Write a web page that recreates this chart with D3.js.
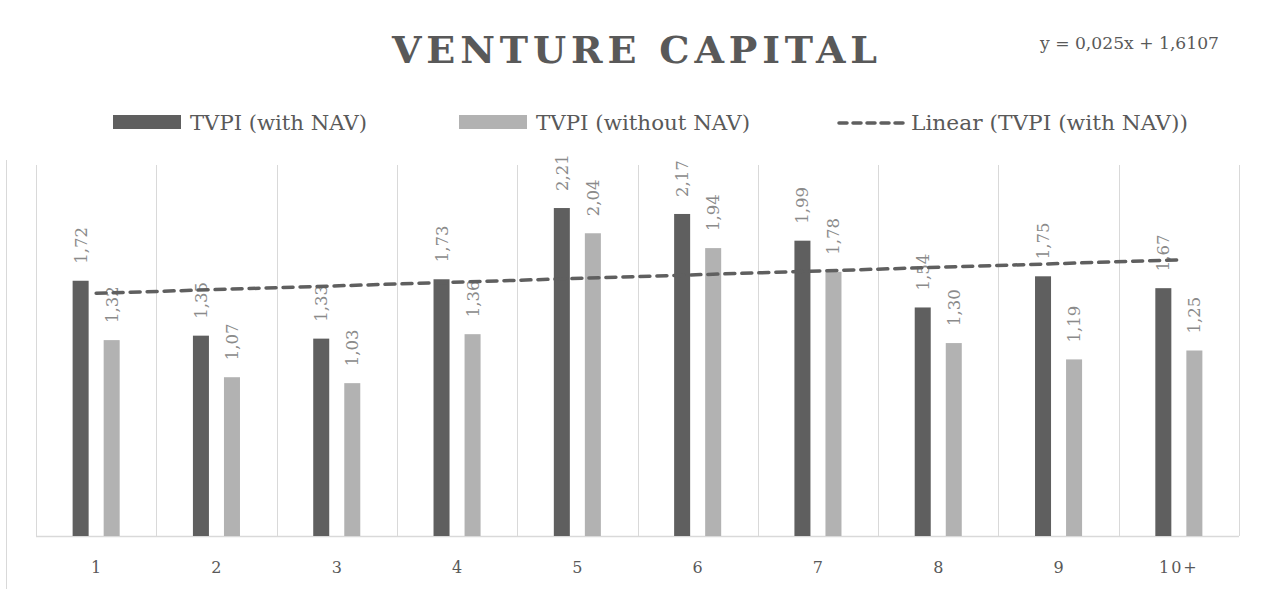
<!DOCTYPE html>
<html>
<head>
<meta charset="utf-8">
<script src="https://cdn.jsdelivr.net/npm/d3@7"></script>
<style>
  html, body { margin: 0; padding: 0; background: #fff; }
  svg { display: block; font-family: "DejaVu Serif", serif; }
</style>
</head>
<body>
<div id="chart"></div>
<script>
const categories = ["1", "2", "3", "4", "5", "6", "7", "8", "9", "10+"];
const series = ["TVPI (with NAV)", "TVPI (without NAV)"];
const withNav = [1.72, 1.35, 1.33, 1.73, 2.21, 2.17, 1.99, 1.54, 1.75, 1.67];
const withoutNav = [1.32, 1.07, 1.03, 1.36, 2.04, 1.94, 1.78, 1.30, 1.19, 1.25];
const trendSlope = 0.025;
const trendIntercept = 1.6107;
const trendLabel = "y = 0,025x + 1,6107";
const trendName = "Linear (TVPI (with NAV))";
const title = "VENTURE CAPITAL";

const chart = (() => {
  const width = 1265;
  const height = 589;
  const dark = "#5f5f5f";
  const light = "#b2b2b2";
  const grid = "#d9d9d9";
  const fmt = v => v.toFixed(2).replace(".", ",");

  const svg = d3.select("#chart").append("svg")
    .attr("width", width)
    .attr("height", height)
    .attr("viewBox", [0, 0, width, height]);

  const x0 = d3.scaleBand().domain(categories).range([36, 1239]);
  const x1 = d3.scaleBand().domain(series)
    .range([0, x0.bandwidth()])
    .paddingInner(0.484)
    .paddingOuter(1.18);
  const y = d3.scaleLinear().domain([0, 2.5]).range([536, 165]);

  // chart border on the left
  svg.append("line")
    .attr("x1", 6.5).attr("x2", 6.5).attr("y1", 160).attr("y2", height)
    .attr("stroke", grid);

  // vertical category gridlines
  svg.append("g")
    .selectAll("line")
    .data(categories.concat(["end"]))
    .join("line")
    .attr("x1", (d, i) => Math.round(i < categories.length ? x0(d) : x0.range()[1]) + 0.5)
    .attr("x2", (d, i) => Math.round(i < categories.length ? x0(d) : x0.range()[1]) + 0.5)
    .attr("y1", y(2.5)).attr("y2", y(0))
    .attr("stroke", grid);

  // x axis line
  svg.append("line")
    .attr("x1", x0.range()[0]).attr("x2", x0.range()[1])
    .attr("y1", y(0) + 0.5).attr("y2", y(0) + 0.5)
    .attr("stroke", grid).attr("stroke-width", 1.5);

  // bars
  const rows = categories.map((c, i) => ({ c, vals: [withNav[i], withoutNav[i]] }));
  const group = svg.append("g")
    .selectAll("g")
    .data(rows)
    .join("g")
    .attr("transform", d => `translate(${x0(d.c)},0)`);

  group.selectAll("rect")
    .data(d => d.vals.map((v, k) => ({ s: series[k], v, k })))
    .join("rect")
    .attr("x", d => x1(d.s))
    .attr("width", x1.bandwidth())
    .attr("y", d => y(d.v))
    .attr("height", d => y(0) - y(d.v))
    .attr("fill", d => d.k === 0 ? dark : light);

  // rotated data labels
  group.selectAll("text")
    .data(d => d.vals.map((v, k) => ({ s: series[k], v, k })))
    .join("text")
    .attr("transform", d => `translate(${x1(d.s) + x1.bandwidth() / 2 + 6},${y(d.v) - 17}) rotate(-90)`)
    .attr("font-size", 16.5)
    .attr("fill", "#8a8a8a")
    .text(d => fmt(d.v));

  // category tick labels
  svg.append("g")
    .selectAll("text")
    .data(categories)
    .join("text")
    .attr("x", d => x0(d) + x0.bandwidth() / 2)
    .attr("y", 573)
    .attr("text-anchor", "middle")
    .attr("font-size", 16)
    .attr("letter-spacing", d => d.length > 1 ? 2 : 0)
    .attr("fill", "#595959")
    .text(d => d);

  // linear trendline
  const cx = (c) => x0(c) + x0.bandwidth() / 2;
  const first = categories[0], last = categories[categories.length - 1];
  svg.append("line")
    .attr("x1", cx(first)).attr("y1", y(trendIntercept + trendSlope * 1))
    .attr("x2", cx(last)).attr("y2", y(trendIntercept + trendSlope * categories.length))
    .attr("stroke", dark)
    .attr("stroke-width", 3.5)
    .attr("stroke-dasharray", "10 7")
    .attr("stroke-linecap", "round");

  // title
  svg.append("text")
    .attr("x", 392).attr("y", 63)
    .attr("font-size", 38)
    .attr("font-weight", "bold")
    .attr("fill", "#595959")
    .attr("textLength", 485)
    .attr("lengthAdjust", "spacing")
    .text(title);

  // equation
  svg.append("text")
    .attr("x", 1040).attr("y", 49)
    .attr("font-size", 17)
    .attr("fill", "#595959")
    .attr("textLength", 179)
    .attr("lengthAdjust", "spacingAndGlyphs")
    .text(trendLabel);

  // legend
  const legend = svg.append("g").attr("font-size", 21).attr("fill", "#595959");
  legend.append("rect").attr("x", 113).attr("y", 115).attr("width", 68).attr("height", 14).attr("fill", dark);
  legend.append("text").attr("x", 190).attr("y", 130).attr("textLength", 177)
    .attr("lengthAdjust", "spacingAndGlyphs").text(series[0]);
  legend.append("rect").attr("x", 459).attr("y", 115).attr("width", 68).attr("height", 14).attr("fill", light);
  legend.append("text").attr("x", 536).attr("y", 130).attr("textLength", 214)
    .attr("lengthAdjust", "spacingAndGlyphs").text(series[1]);
  legend.append("line")
    .attr("x1", 839).attr("x2", 905).attr("y1", 123).attr("y2", 123)
    .attr("stroke", dark).attr("stroke-width", 3.5)
    .attr("stroke-dasharray", "8 6").attr("stroke-linecap", "round");
  legend.append("text").attr("x", 911).attr("y", 130).attr("textLength", 277)
    .attr("lengthAdjust", "spacingAndGlyphs").text(trendName);

  return svg.node();
})();
</script>
</body>
</html>
